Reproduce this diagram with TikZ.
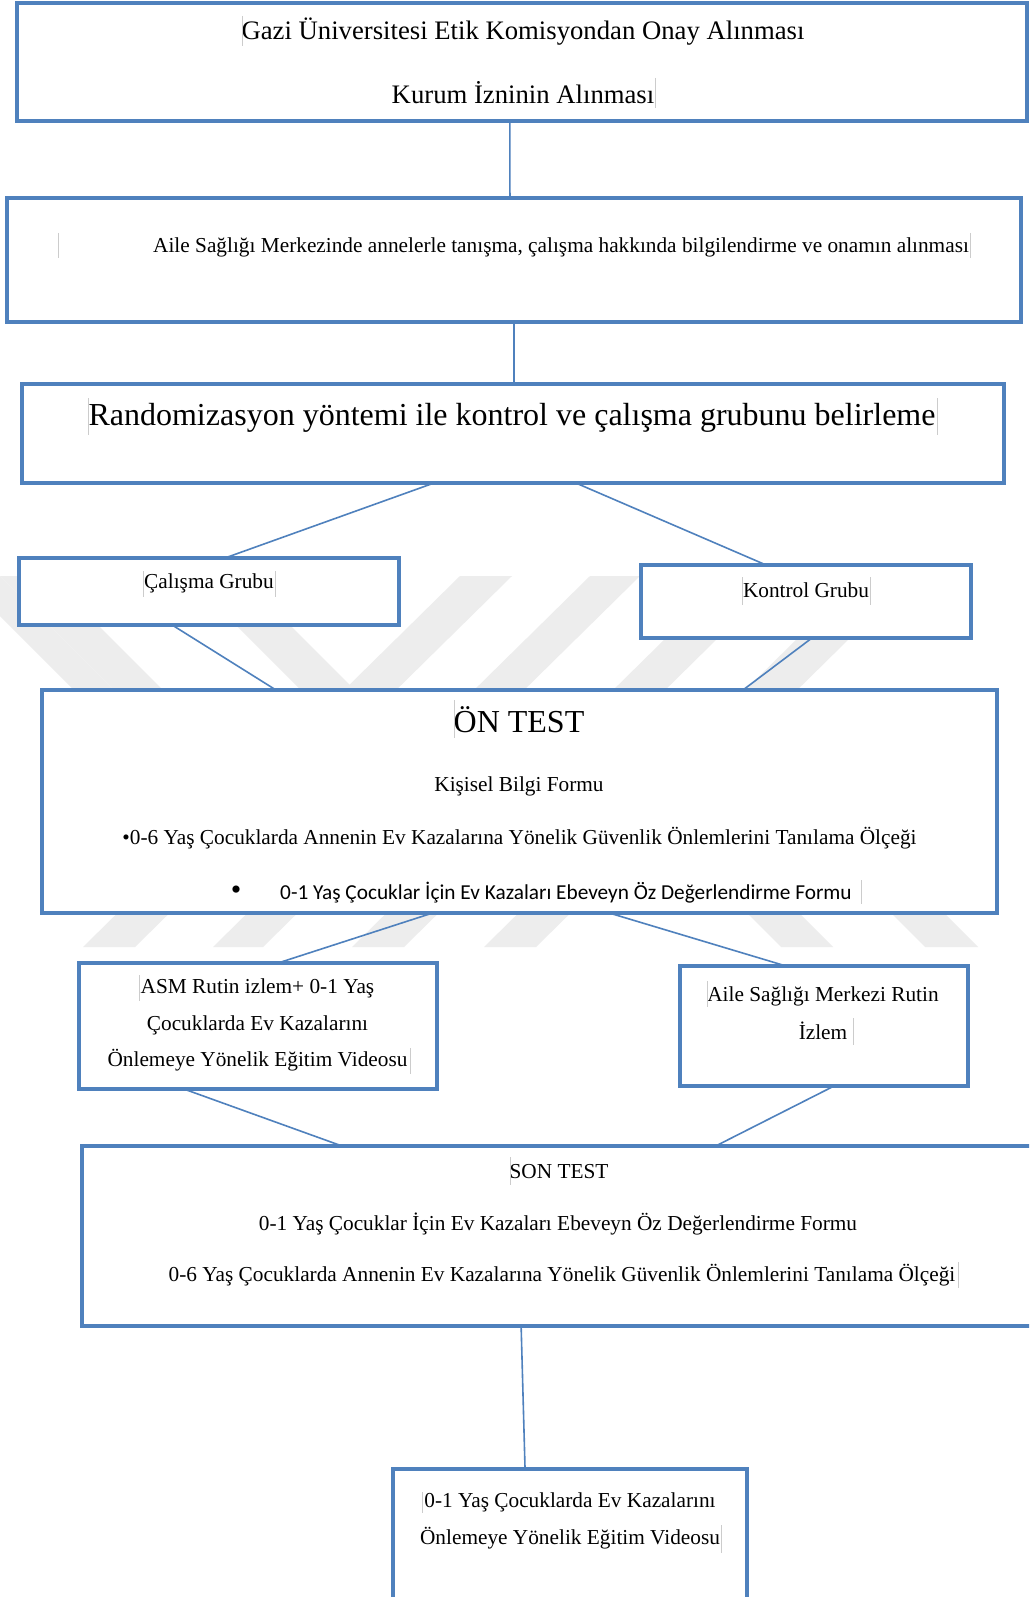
\documentclass[tikz,border=0pt]{standalone}
\usepackage{fontspec}
\setmainfont{Liberation Serif}
\newfontfamily\calibrifont{Carlito}
\usetikzlibrary{calc}
\definecolor{boxblue}{HTML}{4F81BD}
\definecolor{wmgray}{HTML}{EDEDED}
\definecolor{caretgray}{HTML}{CCCCCC}
\newcommand\fs[2]{\fontsize{#1}{#2}\selectfont}
\begin{document}
\begin{tikzpicture}[x=1pt,y=-1pt,
  box/.style={draw=boxblue, line width=4.5pt, fill=white, rectangle, inner sep=0pt, outer sep=0pt},
  link/.style={draw=boxblue, line width=1.6pt},
  txt/.style={inner sep=0pt, align=center, font=\fs{21.3}{36.5}},
  cursorline/.style={draw=caretgray, line width=0.7pt},
  band/.style={fill=wmgray, draw=none}]
\useasboundingbox (0,0) rectangle (1029,1597);
\clip (0,0) rectangle (1029,1597);
\fill[white] (0,0) rectangle (1029,1597);

% faint watermark bands
\path[band] (0,576) -- (49,576) -- (233,760) -- (184,760) -- cycle;
\path[band] (-40,576) -- (0,576) -- (184,760) -- (144,760) -- cycle;
\path[band] (187,576) -- (241,576) -- (425,760) -- (371,760) -- cycle;
\path[band] (460,576) -- (512,576) -- (135,947) -- (83,947) -- cycle;
\path[band] (590,576) -- (640,576) -- (263,947) -- (213,947) -- cycle;
\path[band] (729,576) -- (781,576) -- (404,947) -- (352,947) -- cycle;
\path[band] (861,576) -- (913,576) -- (536,947) -- (484,947) -- cycle;
\path[band] (734,900) -- (786,900) -- (833,947) -- (781,947) -- cycle;
\path[band] (878,900) -- (931,900) -- (978,947) -- (925,947) -- cycle;

% boxes
\node[box, minimum width=1010pt, minimum height=118pt] (b1) at (522,62) {};
\node[box, minimum width=1014pt, minimum height=124pt] (b2) at (514,260) {};
\node[box, minimum width=982pt, minimum height=99pt] (b3) at (513,433.5) {};
\node[box, minimum width=380pt, minimum height=67pt] (cal) at (209,591.5) {};
\node[box, minimum width=330pt, minimum height=73pt] (kon) at (806,601.5) {};
\node[box, minimum width=955pt, minimum height=223pt] (on) at (519.5,801.5) {};
\node[box, minimum width=358pt, minimum height=126pt] (asm) at (258,1026) {};
\node[box, minimum width=288pt, minimum height=120pt] (aile) at (824,1026) {};
\node[box, minimum width=963pt, minimum height=180pt] (son) at (563.5,1236) {};
\node[box, minimum width=354pt, minimum height=151pt] (fin) at (570,1544.5) {};

% connectors
\draw[link] ($(b1.south west)!0.488!(b1.south east)$) -- ($(b2.north west)!0.496!(b2.north east)$);
\draw[link] ($(b2.south west)!0.5!(b2.south east)$) -- ($(b3.north west)!0.501!(b3.north east)$);
\draw[link] ($(b3.south west)!0.4196!(b3.south east)$) -- ($(cal.north west)!0.542!(cal.north east)$);
\draw[link] ($(b3.south west)!0.564!(b3.south east)$) -- ($(kon.north west)!0.379!(kon.north east)$);
\draw[link] ($(cal.south west)!0.403!(cal.south east)$) -- ($(on.north west)!0.245!(on.north east)$);
\draw[link] ($(kon.south west)!0.518!(kon.south east)$) -- ($(on.north west)!0.734!(on.north east)$);
\draw[link] ($(on.south west)!0.409!(on.south east)$) -- ($(asm.north west)!0.556!(asm.north east)$);
\draw[link] ($(on.south west)!0.594!(on.south east)$) -- ($(aile.north west)!0.368!(aile.north east)$);
\draw[link] ($(asm.south west)!0.293!(asm.south east)$) -- ($(son.north west)!0.270!(son.north east)$);
\draw[link] ($(aile.south west)!0.535!(aile.south east)$) -- ($(son.north west)!0.658!(son.north east)$);
\draw[link] ($(son.south west)!0.456!(son.south east)$) -- ($(fin.north west)!0.373!(fin.north east)$);

% texts
\node[txt, font=\fs{26.7}{30}] (t1a) at (523,32) {Gazi Üniversitesi Etik Komisyondan Onay Alınması};
\node[txt, font=\fs{26.7}{30}] (t1b) at (523,93) {Kurum İzninin Alınması};
\node[txt] (t2) at (561,247) {Aile Sağlığı Merkezinde annelerle tanışma, çalışma hakkında bilgilendirme ve onamın alınması};
\node[txt, font=\fs{32}{36}] (t3) at (512,418) {Randomizasyon yöntemi ile kontrol ve çalışma grubunu belirleme};
\node[txt] (t4) at (209,583) {Çalışma Grubu};
\node[txt] (t5) at (806,590) {Kontrol Grubu};
\node[txt, font=\fs{32}{36}] (t6a) at (519,720) {ÖN TEST};
\node[txt] (t6b) at (519,786) {Kişisel Bilgi Formu};
\node[txt] (t6c) at (519.5,838) {•0-6 Yaş Çocuklarda Annenin Ev Kazalarına Yönelik Güvenlik Önlemlerini Tanılama Ölçeği};
\node[txt, font=\fs{30}{32}] (t6d) at (236,893) {•};
\node[txt, font=\calibrifont\fs{21.3}{24}, anchor=west] (t6e) at (280,893) {0-1 Yaş Çocuklar İçin Ev Kazaları Ebeveyn Öz Değerlendirme Formu};
\node[txt] (t7) at (257.5,1025) {ASM Rutin izlem+ 0-1 Yaş\\Çocuklarda Ev Kazalarını\\Önlemeye Yönelik Eğitim Videosu};
\node[txt, font=\fs{21.3}{38}] (t8) at (823,1013) {Aile Sağlığı Merkezi Rutin\\İzlem};
\node[txt] (t9a) at (559,1172) {SON TEST};
\node[txt] (t9b) at (558,1224) {0-1 Yaş Çocuklar İçin Ev Kazaları Ebeveyn Öz Değerlendirme Formu};
\node[txt] (t9c) at (562,1275) {0-6 Yaş Çocuklarda Annenin Ev Kazalarına Yönelik Güvenlik Önlemlerini Tanılama Ölçeği};
\node[txt, font=\fs{21.3}{37}] (t10) at (570,1520.5) {0-1 Yaş Çocuklarda Ev Kazalarını\\Önlemeye Yönelik Eğitim Videosu};

% faint text-frame marks
\draw[cursorline] (242,16) -- (242,46);
\draw[cursorline] (655,78) -- (655,108);
\draw[cursorline] (58,233) -- (58,258);
\draw[cursorline] (970,233) -- (970,258);
\draw[cursorline] (88,398) -- (88,435);
\draw[cursorline] (937,398) -- (937,435);
\draw[cursorline] (143,571) -- (143,597);
\draw[cursorline] (275,571) -- (275,597);
\draw[cursorline] (742,577) -- (742,605);
\draw[cursorline] (870,577) -- (870,605);
\draw[cursorline] (454,700) -- (454,738);
\draw[cursorline] (861,880) -- (861,904);
\draw[cursorline] (139,975) -- (139,1001);
\draw[cursorline] (410,1048) -- (410,1074);
\draw[cursorline] (707,981) -- (707,1007);
\draw[cursorline] (853,1018) -- (853,1045);
\draw[cursorline] (510,1157) -- (510,1185);
\draw[cursorline] (958,1262) -- (958,1288);
\draw[cursorline] (422,1492) -- (422,1513);
\draw[cursorline] (721,1525) -- (721,1553);
\end{tikzpicture}
\end{document}
